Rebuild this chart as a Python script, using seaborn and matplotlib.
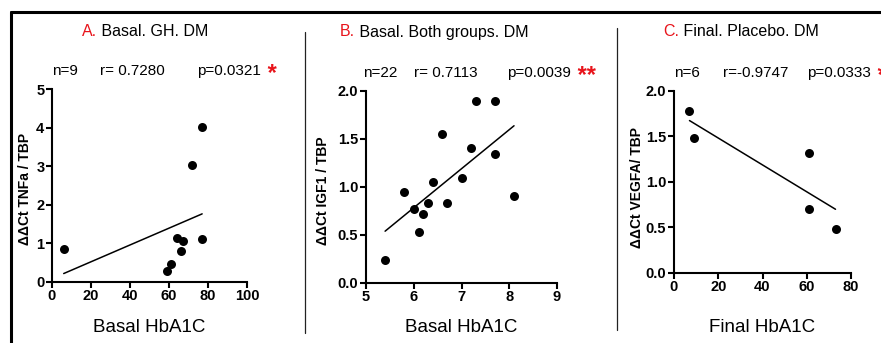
import matplotlib.pyplot as plt
import seaborn as sns
from matplotlib.lines import Line2D

# --- data ---
a_x = [6, 59, 61, 64, 66, 67, 72, 77, 77]
a_y = [0.85, 0.28, 0.47, 1.13, 0.80, 1.05, 3.02, 4.02, 1.10]

b_x = [5.4, 5.8, 6.0, 6.1, 6.2, 6.3, 6.4, 6.6, 6.7, 7.0, 7.2, 7.3, 7.7, 7.7, 8.1]
b_y = [0.24, 0.95, 0.77, 0.53, 0.72, 0.83, 1.05, 1.55, 0.83, 1.09, 1.40, 1.89, 1.89, 1.34, 0.90]

c_x = [7, 9, 61, 61, 73]
c_y = [1.78, 1.48, 1.32, 0.70, 0.48]

panel_letters = ['A.', 'B.', 'C.']
panel_titles = ['Basal. GH. DM', 'Basal. Both groups. DM', 'Final. Placebo. DM']
n_labels = ['n=9', 'n=22', 'n=6']
r_labels = ['r= 0.7280', 'r= 0.7113', 'r=-0.9747']
p_labels = ['p=0.0321', 'p=0.0039', 'p=0.0333']
stars = ['*', '**', '*']
x_labels = ['Basal HbA1C', 'Basal HbA1C', 'Final HbA1C']
y_labels = ['ΔΔCt TNFa / TBP', 'ΔΔCt IGF1 / TBP', 'ΔΔCt VEGFA/ TBP']
x_ticks = [[0, 20, 40, 60, 80, 100], [5, 6, 7, 8, 9], [0, 20, 40, 60, 80]]
y_ticks = [[0, 1, 2, 3, 4, 5], [0.0, 0.5, 1.0, 1.5, 2.0], [0.0, 0.5, 1.0, 1.5, 2.0]]

sns.set_theme(style="ticks")
plt.rcParams['font.family'] = ['Liberation Sans', 'DejaVu Sans']
plt.rcParams['text.color'] = 'black'
plt.rcParams['axes.labelcolor'] = 'black'
plt.rcParams['axes.edgecolor'] = 'black'
plt.rcParams['xtick.color'] = 'black'
plt.rcParams['ytick.color'] = 'black'

W, H = 881, 343
fig = plt.figure(figsize=(W / 100, H / 100), dpi=100)


def px_box(x0, x1, ytop, ybot):
    return [x0 / W, 1 - ybot / H, (x1 - x0) / W, (ybot - ytop) / H]


def fx(x):
    return x / W


def fy(y):
    return 1 - y / H


boxes = [px_box(52, 247, 89.3, 281.7),
         px_box(366, 557, 90.7, 282.7),
         px_box(674, 851, 90.7, 272.7)]
ylabel_pos = [(-0.138, 0.48), (-0.225, 0.478), (-0.211, 0.47)]
xlabel_y = [327.7, 327.5, 327.5]
title_x = [82, 340, 663]
stat_x = [(52, 100, 197), (363, 414, 507), (674, 723, 807)]
stat_y = [71, 73, 73]

data = [(a_x, a_y), (b_x, b_y), (c_x, c_y)]

for i, (xs, ys) in enumerate(data):
    ax = fig.add_axes(boxes[i])
    sns.regplot(x=xs, y=ys, ax=ax, ci=None, color='black',
                scatter_kws={'s': 42, 'linewidths': 0, 'alpha': 1},
                line_kws={'lw': 1.1})
    ax.set_xlim(x_ticks[i][0], x_ticks[i][-1])
    ax.set_ylim(y_ticks[i][0], y_ticks[i][-1])
    ax.set_xticks(x_ticks[i])
    ax.set_yticks(y_ticks[i])
    if i > 0:
        ax.set_yticklabels([f'{v:.1f}' for v in y_ticks[i]])
    sns.despine(ax=ax)
    for s in ['left', 'bottom']:
        ax.spines[s].set_linewidth(1.5)
    ax.tick_params(direction='out', length=4, width=1.5, labelsize=10.5, pad=1.5)
    for lab in ax.get_xticklabels() + ax.get_yticklabels():
        lab.set_fontweight('bold')

    ax.set_ylabel(y_labels[i], fontsize=10, fontweight='bold', va='center')
    ax.yaxis.set_label_coords(*ylabel_pos[i])
    ax.set_xlabel('')
    fig.text(fx(boxes[i][0] * W + boxes[i][2] * W / 2), fy(xlabel_y[i]), x_labels[i],
             fontsize=13.5, ha='center', va='center')

    # title: red letter then black text
    t1 = fig.text(fx(title_x[i]), fy(32), panel_letters[i], color='#e8141b',
                  fontsize=11.5, ha='left', va='center')
    ax.annotate(' ' + panel_titles[i], xy=(1, 0), xycoords=t1, fontsize=11.5,
                ha='left', va='bottom', annotation_clip=False)

    # stats line
    nx, rx, px = stat_x[i]
    fig.text(fx(nx), fy(stat_y[i]), n_labels[i], fontsize=11, ha='left', va='center')
    fig.text(fx(rx), fy(stat_y[i]), r_labels[i], fontsize=11, ha='left', va='center')
    tp = fig.text(fx(px), fy(stat_y[i]), p_labels[i], fontsize=11, ha='left', va='center')
    ax.annotate(' ' + stars[i], xy=(1, 0.5), xycoords=tp, color='#e8141b',
                fontsize=17, fontweight='bold', ha='left', va='top',
                xytext=(0, 6), textcoords='offset points', annotation_clip=False)

# outer frame and separators
fig.add_artist(Line2D([fx(11), 1.01], [fy(12), fy(12)], color='black', lw=2.2,
                      transform=fig.transFigure))
fig.add_artist(Line2D([fx(11), fx(11)], [fy(12), -0.01], color='black', lw=2.2,
                      transform=fig.transFigure))
fig.add_artist(Line2D([fx(305), fx(305)], [fy(32), fy(333)], color='#222222', lw=0.9,
                      transform=fig.transFigure))
fig.add_artist(Line2D([fx(617), fx(617)], [fy(28), fy(330)], color='#222222', lw=0.9,
                      transform=fig.transFigure))

fig.savefig('out.png', dpi=100)
